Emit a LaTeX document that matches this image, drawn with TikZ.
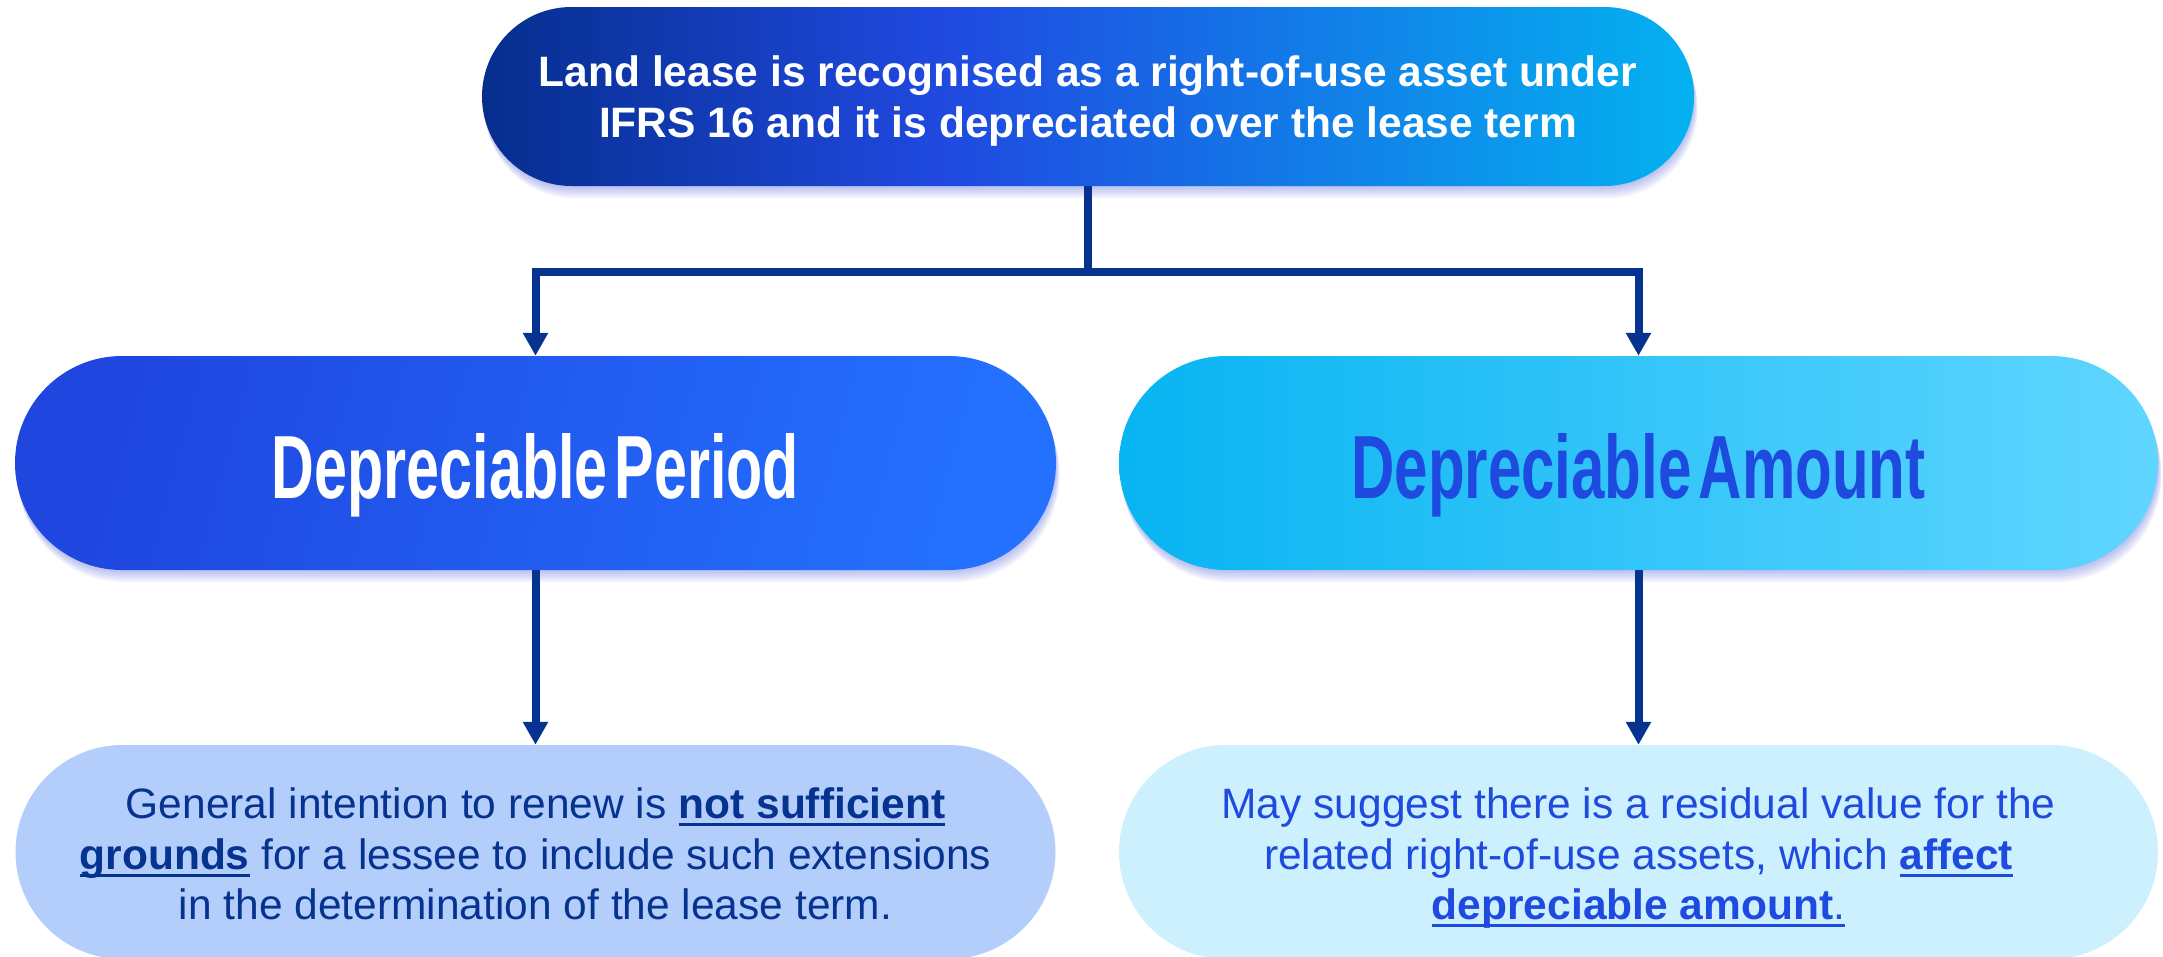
\documentclass[tikz,border=0pt]{standalone}
\usepackage{fontspec}
\setmainfont{Liberation Sans}
\usepackage{graphicx}
\usetikzlibrary{arrows.meta,backgrounds}

\definecolor{navy}{HTML}{05338F}
\definecolor{royal}{HTML}{1F4AE0}
\definecolor{headA}{HTML}{062E8E}
\definecolor{headB}{HTML}{2049E0}
\definecolor{headC}{HTML}{04B2F0}
\definecolor{periodA}{HTML}{1F46DF}
\definecolor{periodB}{HTML}{2470FF}
\definecolor{amountA}{HTML}{08B4F2}
\definecolor{amountB}{HTML}{60D6FF}
\definecolor{noteA}{HTML}{B4CEFC}
\definecolor{noteB}{HTML}{CCF0FD}
\definecolor{glowc}{HTML}{4858D8}

\pgfdeclarehorizontalshading{headshade}{100bp}{color(0bp)=(headA); color(25bp)=(headA); color(44bp)=(headB); color(75bp)=(headC); color(100bp)=(headC)}

% underline drawn at a fixed depth below the baseline
\newsavebox\ulsave
\newcommand\ulined[1]{\leavevmode\sbox\ulsave{#1}\rlap{\rule[-7.5pt]{\wd\ulsave}{2.8pt}}\usebox\ulsave}
\newcommand\keyterm[1]{\ulined{\textbf{#1}}}
\newcommand\bigtitle[2]{\resizebox{#1}{65pt}{\bfseries #2}}
% invisible struts fixing the first-line height and last-line depth
\newcommand\toph[1]{\rule{0pt}{#1}}
\newcommand\botd[1]{\rule[-#1]{0pt}{#1}}

\tikzset{
  pill/.style={rectangle, inner sep=0pt, align=center},
  conn/.style={draw=navy, line width=8pt},
  tip/.style={-{Triangle[width=24pt,length=23pt]}},
  notefont/.style={font=\fontsize{42.5}{50.5}\selectfont},
  titletext/.style={text height=70pt, text depth=0pt},
}

\begin{document}
\begin{tikzpicture}[x=1pt,y=-1pt]
\useasboundingbox (0,0) rectangle (2163,956);
\clip (0,0) rectangle (2163,956);

% header
\node[pill, minimum width=1212pt, minimum height=179pt, rounded corners=89.5pt,
      shading=headshade, text=white,
      font=\fontsize{42.5}{51.5}\selectfont\bfseries] (top) at (1088,96.5)
  {\toph{41pt}Land lease is recognised as a right-of-use asset under\\IFRS 16 and it is depreciated over the lease term\botd{10.5pt}};

% the two branches
\node[pill, minimum width=1041pt, minimum height=214pt, rounded corners=107pt,
      left color=periodA, right color=periodB, shading angle=75, text=white, titletext] (mid1) at (535.5,463)
  {\bigtitle{527pt}{Depreciable\hspace{0.12em}Period}};
\node[pill, minimum width=1039pt, minimum height=214pt, rounded corners=107pt,
      left color=amountA, right color=amountB, text=royal, titletext] (mid2) at (1638.5,463)
  {\bigtitle{574pt}{Depreciable\hspace{0.12em}Amount}};

% notes
\node[pill, minimum width=1040pt, minimum height=214pt, rounded corners=107pt,
      fill=noteA, text=navy, notefont] (bot1) at (535.5,852)
  {\toph{44pt}General intention to renew is \keyterm{not sufficient}\\
   \keyterm{grounds} for a lessee to include such extensions\\
   in the determination of the lease term.\botd{10pt}};
\node[pill, minimum width=1039pt, minimum height=214pt, rounded corners=107pt,
      fill=noteB, text=royal, notefont] (bot2) at (1638.5,852)
  {\toph{44pt}May suggest there is a residual value for the\\
   related right-of-use assets, which \keyterm{affect}\\
   \ulined{\textbf{depreciable amount}.}\botd{10pt}};

% soft glow under the upper boxes
\begin{scope}[on background layer]
\foreach \n/\r in {top/89.5,mid1/107,mid2/107}{
  \foreach \k in {1,...,14}{
    \fill[glowc, opacity=0.03, rounded corners=\r pt]
      ([shift={(0.25*\k,0.9*\k)}]\n.north west) rectangle ([shift={(0.25*\k,0.9*\k)}]\n.south east);
  }
}
\end{scope}

% connectors
\draw[conn] (top.south) -- ++(0,86) coordinate (fork);
\draw[conn,tip] (fork) -| (mid1.north);
\draw[conn,tip] (fork) -| (mid2.north);
\draw[conn,tip] (mid1.south) -- (bot1.north);
\draw[conn,tip] (mid2.south) -- (bot2.north);
\end{tikzpicture}
\end{document}
